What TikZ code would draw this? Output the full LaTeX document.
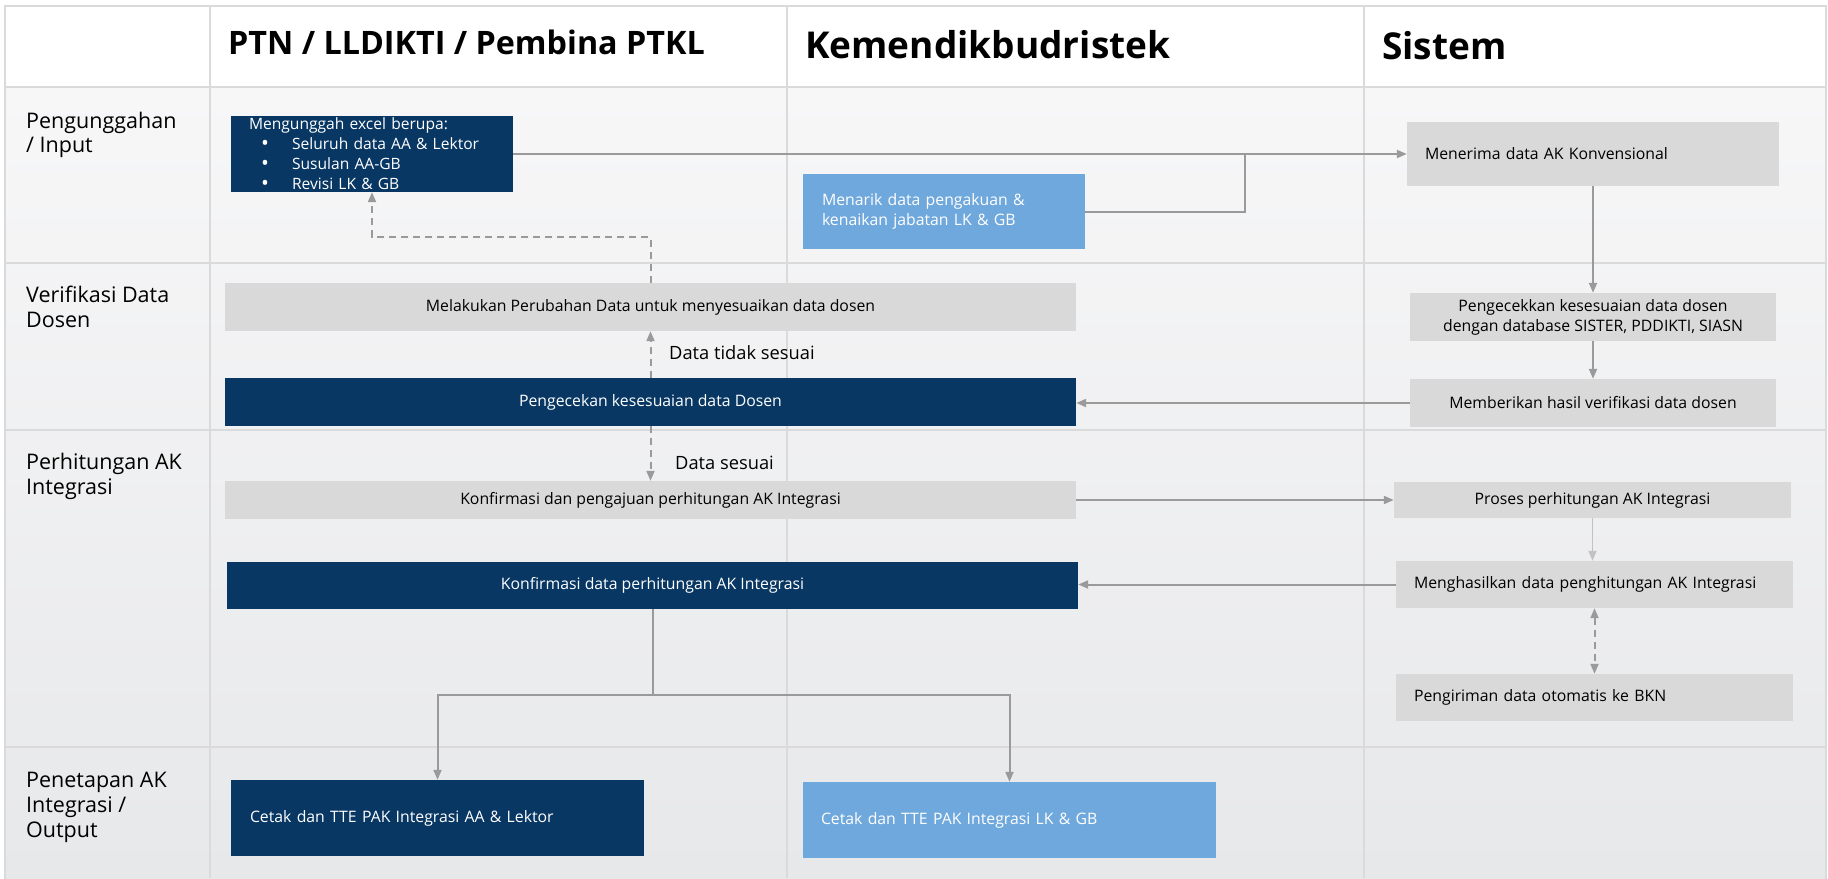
\documentclass[tikz,border=0pt]{standalone}
\usepackage{fontspec}
\setmainfont{Open Sans}
\usetikzlibrary{arrows.meta,calc}
\definecolor{navy}{HTML}{083763}
\definecolor{lightblue}{HTML}{6FA8DC}
\definecolor{boxgray}{HTML}{D9D9D9}
\definecolor{arrowgray}{HTML}{9A9A9A}
\definecolor{gridgray}{HTML}{DADADA}
\definecolor{bgtop}{HTML}{F7F7F8}
\definecolor{bgbot}{HTML}{E7E8EA}
\newcommand{\bigbul}{\raisebox{-0.8pt}{\fontsize{21}{20}\selectfont\textbullet}}
\begin{document}
\begin{tikzpicture}[x=1pt,y=-1pt,
  box/.style={inner sep=0pt, font=\fontsize{15.8}{20}\selectfont},
  cbox/.style={box, align=center},
  lbox/.style={box, align=left},
  navybox/.style={fill=navy, text=white},
  bluebox/.style={fill=lightblue, text=white},
  graybox/.style={fill=boxgray, text=black},
  conn/.style={draw=arrowgray, line width=2pt},
  arr/.style={conn, -{Triangle[length=10pt,width=8pt]}},
  dasharr/.style={arr, dash pattern=on 7pt off 5pt},
  gridline/.style={draw=gridgray, line width=2pt},
  lanehead/.style={font=\fontsize{32.3}{38}\selectfont\bfseries, anchor=base west, inner sep=0pt},
  lanehead2/.style={font=\fontsize{37}{44}\selectfont\bfseries, anchor=base west, inner sep=0pt},
  rowlabel/.style={font=\fontsize{21.5}{24}\selectfont, anchor=base west, inner sep=0pt},
  edgelabel/.style={font=\fontsize{18.3}{20}\selectfont, anchor=west, inner sep=0pt}
]
\useasboundingbox (0,0) rectangle (1828,878);
% background
\fill[white] (0,0) rectangle (1828,878);
\shade[top color=bgtop, bottom color=bgbot] (5,87) rectangle (1826,878);
% grid
\draw[gridline] (5,6) rectangle (1826,884);
\foreach \yy in {87,263,430,747} \draw[gridline] (5,\yy) -- (1826,\yy);
\foreach \xx in {210,787,1364} \draw[gridline] (\xx,6) -- (\xx,878);

% headers
\node[lanehead] (h1) at (228,54) {PTN / LLDIKTI / Pembina PTKL};
\node[lanehead2] (h2) at (805,58) {Kemendikbudristek};
\node[lanehead2] (h3) at (1382,59) {Sistem};

% row labels
\node[rowlabel] (r1a) at (26,128) {Pengunggahan};
\node[rowlabel] (r1b) at (26,152) {/ Input};
\node[rowlabel] (r2a) at (26,302) {Verifikasi Data};
\node[rowlabel] (r2b) at (26,327) {Dosen};
\node[rowlabel] (r3a) at (26,469) {Perhitungan AK};
\node[rowlabel] (r3b) at (26,494) {Integrasi};
\node[rowlabel] (r4a) at (26,787) {Penetapan AK};
\node[rowlabel] (r4b) at (26,812) {Integrasi /};
\node[rowlabel] (r4c) at (26,837) {Output};

% boxes
\node[lbox, navybox, inner xsep=18pt, text width=246pt, minimum height=76pt,
      font=\fontsize{15.6}{20.3}\selectfont] (A) at (372,154)
  {Mengunggah excel berupa:\\
   \hspace*{12pt}\makebox[31pt][l]{\bigbul}Seluruh data AA \& Lektor\\
   \hspace*{12pt}\makebox[31pt][l]{\bigbul}Susulan AA-GB\\
   \hspace*{12pt}\makebox[31pt][l]{\bigbul}Revisi LK \& GB};
\node[lbox, bluebox, inner xsep=19pt, text width=244pt, minimum height=75pt] (B) at (944,211.5)
  {Menarik data pengakuan \&\\kenaikan jabatan LK \& GB};
\node[lbox, graybox, inner xsep=18pt, text width=336pt, minimum height=64pt] (C) at (1593,154)
  {Menerima data AK Konvensional};
\node[cbox, graybox, minimum width=851pt, minimum height=48pt] (D) at (650.5,307)
  {Melakukan Perubahan Data untuk menyesuaikan data dosen};
\node[cbox, navybox, minimum width=851pt, minimum height=48pt] (E) at (650.5,402)
  {Pengecekan kesesuaian data Dosen};
\node[cbox, graybox, minimum width=851pt, minimum height=38pt] (F) at (650.5,500)
  {Konfirmasi dan pengajuan perhitungan AK Integrasi};
\node[cbox, navybox, minimum width=851pt, minimum height=47pt] (G) at (652.5,585.5)
  {Konfirmasi data perhitungan AK Integrasi};
\node[cbox, graybox, minimum width=366pt, minimum height=48pt] (H) at (1593,317)
  {Pengecekkan kesesuaian data dosen\\dengan database SISTER, PDDIKTI, SIASN};
\node[cbox, graybox, minimum width=366pt, minimum height=48pt] (I) at (1593,403)
  {Memberikan hasil verifikasi data dosen};
\node[cbox, graybox, minimum width=397pt, minimum height=36pt] (J) at (1592.5,500)
  {Proses perhitungan AK Integrasi};
\node[lbox, graybox, inner xsep=18pt, text width=361pt, minimum height=47pt] (K) at (1594.5,584.5)
  {Menghasilkan data penghitungan AK Integrasi};
\node[lbox, graybox, inner xsep=18pt, text width=361pt, minimum height=47pt] (L) at (1594.5,697.5)
  {Pengiriman data otomatis ke BKN};
\node[lbox, navybox, inner xsep=19pt, text width=375pt, minimum height=76pt] (M) at (437.5,818)
  {Cetak dan TTE PAK Integrasi AA \& Lektor};
\node[lbox, bluebox, inner xsep=18pt, text width=377pt, minimum height=76pt] (N) at (1009.5,820)
  {Cetak dan TTE PAK Integrasi LK \& GB};

% helper coordinates
\coordinate (bj) at (1245,154);
\coordinate (dk) at (372,237);
\coordinate (gj) at (652.5,695);

% connectors
\draw[arr] (A.east) -- (C.west);
\draw[conn] (B.east) -| (bj);
\draw[arr] (C.south) -- (H.north);
\draw[arr] (H.south) -- (I.north);
\draw[arr] (I.west) -- (I.west -| E.east);
\draw[dasharr] (E.north) -- (D.south);
\draw[dasharr] (D.north) |- (dk) -- (A.south);
\draw[dasharr] (E.south) -- (F.north);
\draw[arr] (F.east) -- (F.east -| J.west);
\draw[arr, draw=arrowgray!60, line width=1.5pt] (J.south) -- (J.south |- K.north);
\draw[arr] (K.west) -- (K.west -| G.east);
\draw[dasharr, {Triangle[length=10pt,width=8pt]}-{Triangle[length=10pt,width=8pt]}] (K.south) -- (L.north);
\draw[arr] (G.south) -- (gj) -| (M.north);
\draw[arr] (gj) -| (N.north);

% edge labels
\node[edgelabel] (l1) at (669,353) {Data tidak sesuai};
\node[edgelabel] (l2) at (675,463) {Data sesuai};
\end{tikzpicture}
\end{document}
